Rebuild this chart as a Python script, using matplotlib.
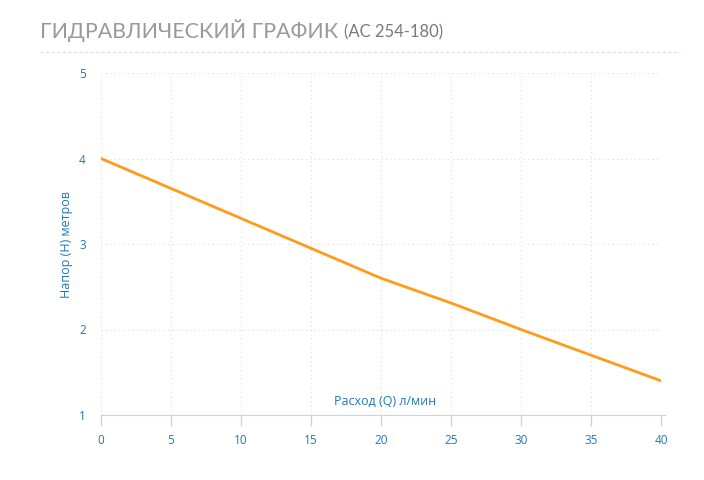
import matplotlib.pyplot as plt
from matplotlib.lines import Line2D

# Данные кривой насоса
flow = [0, 5, 10, 15, 20, 25, 30, 35, 40]                 # Расход, л/мин
head = [4.0, 3.65, 3.3, 2.95, 2.6, 2.31, 2.0, 1.7, 1.4]   # Напор, м

x_ticks = [0, 5, 10, 15, 20, 25, 30, 35, 40]
y_ticks = [1, 2, 3, 4, 5]

blue = '#1f78b8'
plt.rcParams['font.family'] = ['Open Sans', 'DejaVu Sans']

fig = plt.figure(figsize=(7.04, 4.8), dpi=100)
ax = fig.add_axes([101 / 704, 1 - 415 / 480, 560 / 704, 342 / 480])

ax.plot(flow, head, color='#ff9a1a', linewidth=2, solid_capstyle='round', zorder=3)

ax.set_xlim(0, 40)
ax.set_ylim(1, 5)
ax.set_xticks(x_ticks)
ax.set_yticks(y_ticks)
ax.grid(True, color='#dddddd', linestyle=(0, (1, 3)), linewidth=0.8)

for s in ['top', 'right', 'left']:
    ax.spines[s].set_visible(False)
ax.spines['bottom'].set_color('#c8d4e8')
ax.spines['bottom'].set_bounds(0, 40.3)
ax.tick_params(axis='x', colors='#c8d4e8', length=8, width=1, labelcolor=blue,
               labelsize=8.5, pad=6)
ax.tick_params(axis='y', length=0, labelcolor=blue, labelsize=8.5, pad=11)

ax.set_ylabel('Напор (Н) метров', color=blue, fontsize=9, labelpad=4)
ax.text(20.3, 1.08, 'Расход (Q) л/мин', color=blue, fontsize=9,
        ha='center', va='bottom')

# Заголовок
t1 = fig.text(40 / 704, 1 - 31 / 480, 'ГИДРАВЛИЧЕСКИЙ ГРАФИК', fontsize=15.4,
              color='#9a9a9a', family=['Lato', 'DejaVu Sans'], va='center')
fig.canvas.draw()
bb = t1.get_window_extent()
fig.text(bb.x1 / 704 + 6 / 704, 1 - 32 / 480, '(АС 254-180)', fontsize=12,
         color='#7a7a7a', family=['Lato', 'DejaVu Sans'], va='center')
fig.add_artist(Line2D([40 / 704, 680 / 704], [1 - 52 / 480, 1 - 52 / 480],
                      color='#dddddd', linestyle=(0, (3, 2)), linewidth=0.8,
                      transform=fig.transFigure))

fig.savefig('out.png', dpi=100)
